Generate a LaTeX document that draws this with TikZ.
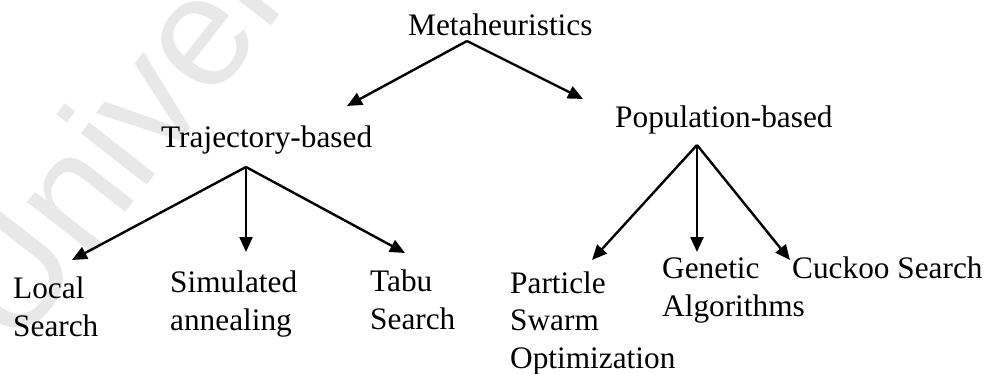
\documentclass[tikz,border=0pt]{standalone}
\usepackage{fontspec}
\setmainfont{Liberation Serif}
\newfontfamily\wmfont{Liberation Sans}
\usetikzlibrary{arrows.meta}
\tikzset{
  lbl/.style={inner sep=0pt, anchor=base west, align=left, font=\fontsize{31.3}{37.5}\selectfont},
  conn/.style={line width=2.4pt, -{Triangle[length=15pt,width=13pt]}},
}
\begin{document}
\begin{tikzpicture}[x=1pt,y=-1pt]
\useasboundingbox (0,0) rectangle (993,374);
\begin{scope}
\clip (0,0) rectangle (993,374);
\node[inner sep=0pt, rotate=52, text=black!9, font=\wmfont\fontsize{158}{158}\selectfont] (wm) at (112,138) {Univer};
\end{scope}
% labels (multi-line nodes are placed at the baseline of their last line)
\node[lbl] (meta) at (408,36) {Metaheuristics};
\node[lbl] (traj) at (161,148) {Trajectory-based};
\node[lbl] (pop) at (615,128) {Population-based};
\node[lbl] (ls) at (13,336) {Local\\Search};
\node[lbl] (sa) at (170,330) {Simulated\\annealing};
\node[lbl] (ts) at (370,329) {Tabu\\Search};
\node[lbl] (pso) at (510,368) {Particle\\Swarm\\Optimization};
\node[lbl] (ga) at (662,316) {Genetic\\Algorithms};
\node[lbl] (cs) at (792,278) {Cuckoo Search};
\coordinate (mA) at (467,41);
\coordinate (tA) at (246,167);
\coordinate (pA) at (697,145);
\coordinate (trajT) at (347,106);
\coordinate (popT) at (583,99);
\coordinate (lsT) at (72,260);
\coordinate (saT) at (246,252);
\coordinate (tsT) at (405,253);
\coordinate (psoT) at (592,260);
\coordinate (gaT) at (697,252);
\coordinate (csT) at (790,260);
\draw[conn] (mA) -- (trajT);
\draw[conn] (mA) -- (popT);
\draw[conn] (tA) -- (lsT);
\draw[conn] (tA) -- (saT);
\draw[conn] (tA) -- (tsT);
\draw[conn] (pA) -- (psoT);
\draw[conn] (pA) -- (gaT);
\draw[conn] (pA) -- (csT);
\end{tikzpicture}
\end{document}
